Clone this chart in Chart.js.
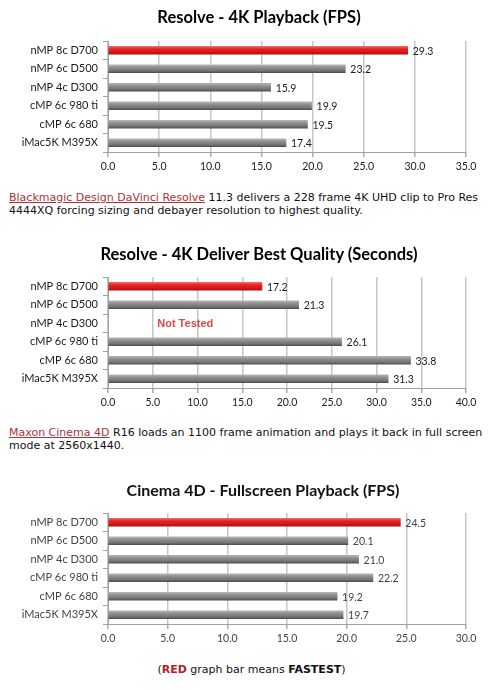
<!DOCTYPE html>
<html>
<head>
<meta charset="utf-8">
<script src="https://cdn.jsdelivr.net/npm/chart.js@4.4.1/dist/chart.umd.min.js"></script>
<style>
  body { margin: 0; background: #fff; width: 503px; height: 690px; position: relative; overflow: hidden; }
  .box { position: absolute; left: 0; width: 503px; }
  canvas { display: block; }
  .titulo { position: absolute; text-align: center; font-family: Lato, sans-serif; font-weight: bold; font-size: 16.5px; line-height: 20px; color: #000; white-space: nowrap; }
  .txt { position: absolute; left: 9px; font-family: "DejaVu Sans", Verdana, sans-serif; font-size: 11px; line-height: 12.7px; color: #111; white-space: nowrap; }
  .txt a { color: #b0303a; text-decoration: underline; }
  .foot { position: absolute; left: 0; width: 503px; text-align: center; font-family: "DejaVu Sans", Verdana, sans-serif; font-size: 11px; line-height: 12px; color: #111; }
  .foot b.red { color: #b81c22; }
</style>
</head>
<body>

<div class="box" style="top:0px;height:180px"><canvas id="grafico1" width="503" height="180"></canvas></div>
<div class="titulo" id="t1" style="top:7px;left:15px;width:488px"></div>
<div class="txt" style="top:192px"><a>Blackmagic Design DaVinci Resolve</a> 11.3 delivers a 228 frame 4K UHD clip to Pro Res<br>4444XQ forcing sizing and debayer resolution to highest quality.</div>

<div class="box" style="top:236px;height:180px"><canvas id="grafico2" width="503" height="180"></canvas></div>
<div class="titulo" id="t2" style="top:244px;left:15px;width:488px"></div>
<div class="txt" style="top:427px"><a>Maxon Cinema 4D</a> R16 loads an 1100 frame animation and plays it back in full screen<br>mode at 2560x1440.</div>

<div class="box" style="top:472px;height:180px"><canvas id="grafico3" width="503" height="180"></canvas></div>
<div class="titulo" id="t3" style="top:480px;left:23px;width:480px;font-size:16px;color:#111"></div>
<div class="foot" style="top:664px">(<b class="red">RED</b> graph bar means <b>FASTEST</b>)</div>

<script>
// Dados

const maquinas = ['nMP 8c D700', 'nMP 6c D500', 'nMP 4c D300', 'cMP 6c 980 ti', 'cMP 6c 680', 'iMac5K M395X']

const titulo1 = 'Resolve - 4K Playback (FPS)'
const valores1 = [29.3, 23.2, 15.9, 19.9, 19.5, 17.4]
const max1 = 35

const titulo2 = 'Resolve - 4K Deliver Best Quality (Seconds)'
const valores2 = [17.2, 21.3, null, 26.1, 33.8, 31.3]
const notas2 = [null, null, 'Not Tested', null, null, null]
const notaEm2 = 5.5
const max2 = 40

const titulo3 = 'Cinema 4D - Fullscreen Playback (FPS)'
const valores3 = [24.5, 20.1, 21.0, 22.2, 19.2, 19.7]
const max3 = 30

const passo = 5
const maisRapido = 0   // indice da barra vermelha


document.getElementById('t1').textContent = titulo1;
document.getElementById('t2').textContent = titulo2;
document.getElementById('t3').textContent = titulo3;


// cor da barra com gradiente (efeito cilindro)
function corBarra(ctx) {
    const vermelho = ctx.dataIndex === maisRapido;
    if (ctx.type !== 'data') return '#888';
    const chart = ctx.chart;
    const y = chart.scales.y ? chart.scales.y.getPixelForValue(ctx.dataIndex) : NaN;
    if (!isFinite(y)) return vermelho ? '#dd1d1d' : '#808080';
    const g = chart.ctx.createLinearGradient(0, y - 4, 0, y + 4);
    if (vermelho) {
        g.addColorStop(0, '#f36a6a');
        g.addColorStop(0.35, '#e42323');
        g.addColorStop(0.75, '#d01717');
        g.addColorStop(1, '#a81010');
    } else {
        g.addColorStop(0, '#b4b4b4');
        g.addColorStop(0.35, '#8e8e8e');
        g.addColorStop(0.75, '#747474');
        g.addColorStop(1, '#4e4e4e');
    }
    return g;
}

// rotulos de valor + notas
const rotulos = {
    id: 'rotulos',
    afterDatasetsDraw(chart, args, opts) {
        const c = chart.ctx;
        const dados = chart.data.datasets[0].data;
        const meta = chart.getDatasetMeta(0);
        c.save();
        c.textBaseline = 'middle';
        c.textAlign = 'left';
        c.font = '10.5px Lato';
        c.fillStyle = opts.cor;
        meta.data.forEach((bar, i) => {
            if (dados[i] == null) return;
            c.fillText(dados[i].toFixed(1), bar.x + 5, bar.y + 1);
        });
        if (opts.notas) {
            c.font = 'bold 11px "Liberation Sans", Arial, sans-serif';
            c.fillStyle = '#e2474a';
            opts.notas.forEach((n, i) => {
                if (!n) return;
                c.fillText(n, chart.scales.x.getPixelForValue(opts.notaEm), chart.scales.y.getPixelForValue(i) + 1);
            });
        }
        c.restore();
    }
}

function grafico(id, valores, max, notas, cor) {
    return new Chart(document.getElementById(id), {
        type: 'bar',
        data: {
            labels: maquinas,
            datasets: [{
                data: valores,
                backgroundColor: corBarra,
                barThickness: 8,
                borderWidth: 0
            }]
        },
        options: {
            indexAxis: 'y',
            responsive: false,
            animation: false,
            layout: { padding: { left: 0, right: 37, top: 41, bottom: 0 } },
            plugins: {
                legend: { display: false },
                tooltip: { enabled: false },
                title: { display: false },
                rotulos: { notas: notas, notaEm: notaEm2, cor: cor }
            },
            scales: {
                x: {
                    min: 0,
                    max: max,
                    afterFit(s) { s.height = 28 },
                    ticks: {
                        stepSize: passo,
                        callback: v => v.toFixed(1),
                        font: { family: 'Lato', size: 10.5 },
                        color: cor,
                        padding: 3,
                        maxRotation: 0
                    },
                    grid: { color: '#c6c6c6', lineWidth: 1.5, tickLength: 5, tickColor: '#aaa' },
                    border: { display: true, color: '#a0a0a0', width: 1 }
                },
                y: {
                    afterFit(s) { s.width = 108 },
                    ticks: {
                        font: { family: 'Lato', size: 11 },
                        color: cor,
                        padding: 5
                    },
                    grid: { drawOnChartArea: false, offset: true, tickLength: 5, color: '#a0a0a0' },
                    border: { display: true, color: '#a0a0a0', width: 1 }
                }
            }
        },
        plugins: [rotulos]
    })
}

grafico('grafico1', valores1, max1, null, '#1a1a1a')
grafico('grafico2', valores2, max2, notas2, '#1a1a1a')
grafico('grafico3', valores3, max3, null, '#444')
</script>
</body>
</html>
